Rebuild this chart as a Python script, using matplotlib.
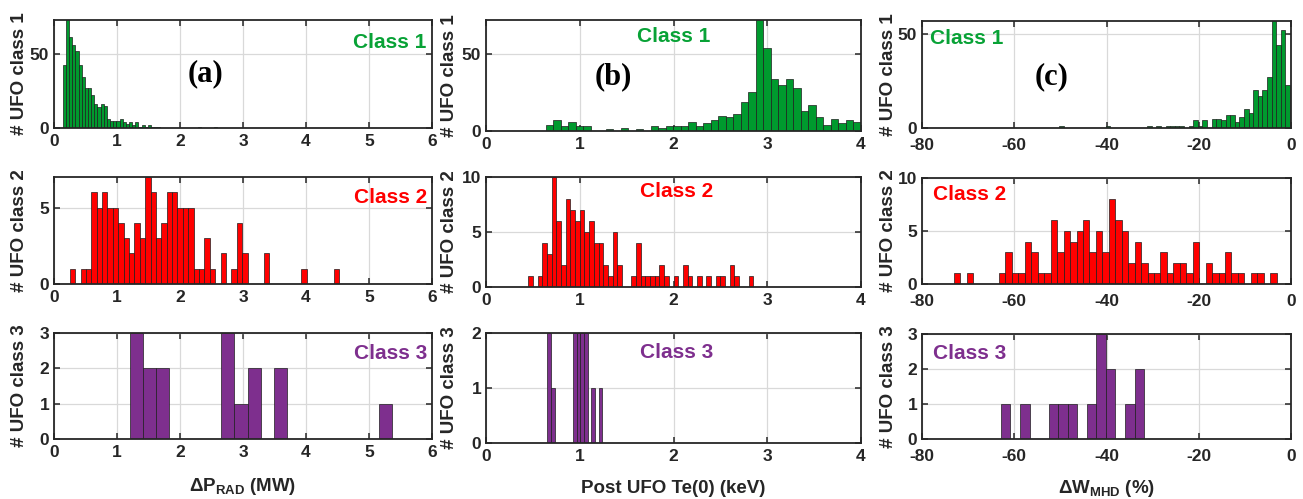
import numpy as np
import matplotlib
matplotlib.use("Agg")
import matplotlib.pyplot as plt

plt.rcParams['font.family'] = ['Liberation Sans', 'DejaVu Sans']
plt.rcParams['font.weight'] = 'bold'
plt.rcParams['axes.unicode_minus'] = False
plt.rcParams['mathtext.fontset'] = 'custom'
plt.rcParams['mathtext.rm'] = 'Liberation Sans:bold'
plt.rcParams['mathtext.bf'] = 'Liberation Sans:bold'
plt.rcParams['mathtext.default'] = 'bf'

# ---- histogram counts (bin start, bin width, counts) ----
# column (a): delta P_RAD (MW)
prad_c1_start, prad_c1_width = 0.14, 0.05
prad_c1 = [42, 80, 61, 56, 52, 42, 34, 27, 27, 22, 16, 14, 16, 15, 6, 5, 5, 5, 6, 4,
           3, 4, 2, 4, 1, 2, 1, 2, 1, 1, 1, 0, 0, 0, 0, 0, 0, 0, 0, 0,
           0, 0, 0, 1, 0, 0, 0, 0, 1]
prad_c2_start, prad_c2_width = 0.25, 0.0855
prad_c2 = [1, 0, 1, 1, 6, 5, 6, 5, 5, 4, 3, 2, 4, 3, 7, 6, 3, 4, 6, 6,
           5, 5, 5, 1, 1, 3, 1, 0, 2, 0, 1, 4, 2, 0, 0, 0, 2, 0, 0, 0,
           0, 0, 0, 1, 0, 0, 0, 0, 0, 1]
prad_c3_start, prad_c3_width = 1.2, 0.208
prad_c3 = [3, 2, 2, 0, 0, 0, 0, 3, 1, 2, 0, 2, 0, 0, 0, 0, 0, 0, 0, 1]

# column (b): post UFO Te(0) (keV)
te_c1_start, te_c1_width = 0.635, 0.08
te_c1 = [4, 7, 3, 6, 3, 3, 0, 0, 1, 0, 2, 0, 1, 0, 3, 2, 3, 3, 3, 6,
         3, 5, 7, 10, 9, 11, 19, 25, 80, 54, 34, 30, 34, 28, 13, 17, 9, 4, 8, 5,
         7, 6]
te_c2_start, te_c2_width = 0.45, 0.05
te_c2 = [1, 0, 1, 4, 3, 10, 6, 2, 8, 7, 6, 7, 5, 6, 4, 4, 2, 1, 5, 2,
         0, 0, 1, 4, 1, 1, 1, 1, 2, 1, 0, 1, 0, 2, 1, 0, 1, 0, 1, 0,
         1, 1, 0, 2, 1, 0, 0, 1]
te_c3_start, te_c3_width = 0.655, 0.039
te_c3 = [2, 1, 0, 0, 0, 0, 0, 2, 2, 2, 2, 0, 1, 0, 1]

# column (c): delta W_MHD (%)
wmhd_c1_start, wmhd_c1_width = -50.2, 1.0
wmhd_c1 = [1, 0, 0, 0, 0, 0, 0, 0, 0, 0, 1, 0, 0, 0, 0, 0, 0, 0, 0, 1,
           0, 1, 0, 1, 1, 1, 1, 0, 1, 4, 1, 4, 0, 5, 5, 4, 7, 7, 3, 6,
           10, 8, 20, 17, 20, 27, 60, 44, 52, 23]
wmhd_c2_start, wmhd_c2_width = -73.1, 1.4
wmhd_c2 = [1, 0, 1, 0, 0, 0, 0, 1, 3, 1, 1, 4, 3, 1, 1, 6, 3, 5, 4, 5,
           6, 3, 5, 3, 8, 6, 5, 2, 4, 2, 1, 1, 3, 1, 2, 2, 1, 4, 0, 2,
           1, 1, 3, 1, 1, 0, 1, 1, 0, 1]
wmhd_c3_start, wmhd_c3_width = -62.9, 2.07
wmhd_c3 = [1, 0, 1, 0, 0, 1, 1, 1, 0, 1, 3, 2, 0, 1, 2]

class_names = ['Class 1', 'Class 2', 'Class 3']
class_colors = ['#009a2e', '#ff0000', '#7e2f8e']
text_colors = ['#08a236', '#ff0000', '#7e2f8e']
ylabels = ['# UFO class 1', '# UFO class 2', '# UFO class 3']
panel_tags = ['(a)', '(b)', '(c)']
xlabels = [r'$\Delta$P$_{RAD}$ (MW)', 'Post UFO Te(0) (keV)', r'$\Delta$W$_{MHD}$ (%)']

columns = [
    dict(data=[(prad_c1_start, prad_c1_width, prad_c1),
               (prad_c2_start, prad_c2_width, prad_c2),
               (prad_c3_start, prad_c3_width, prad_c3)],
         xlim=(0, 6), xticks=[0, 1, 2, 3, 4, 5, 6],
         ylims=[72.5, 7, 3], yticks=[[0, 50], [0, 5], [0, 1, 2, 3]]),
    dict(data=[(te_c1_start, te_c1_width, te_c1),
               (te_c2_start, te_c2_width, te_c2),
               (te_c3_start, te_c3_width, te_c3)],
         xlim=(0, 4), xticks=[0, 1, 2, 3, 4],
         ylims=[72, 10, 2], yticks=[[0, 50], [0, 5, 10], [0, 1, 2]]),
    dict(data=[(wmhd_c1_start, wmhd_c1_width, wmhd_c1),
               (wmhd_c2_start, wmhd_c2_width, wmhd_c2),
               (wmhd_c3_start, wmhd_c3_width, wmhd_c3)],
         xlim=(-80, 0), xticks=[-80, -60, -40, -20, 0],
         ylims=[57, 10, 3], yticks=[[0, 50], [0, 5, 10], [0, 1, 2, 3]]),
]

# layout in pixels of the reference image
W, H = 1303, 499
col_x = [(54, 432), (486, 861), (922, 1291)]
row_y = [[(20, 128), (177, 284), (333, 439)],
         [(20, 131), (177, 287), (333, 443)],
         [(21, 128), (178, 284), (334, 439)]]
ylabel_x = [-0.069, -0.075, -0.068]
xlabel_y = [-0.35, -0.336, -0.368]
xtick_pad = [4.5, 4.5, 7.0]
# class label placement (x frac, y frac, ha)
class_pos = [[(0.985, 0.79, 'right'), (0.987, 0.81, 'right'), (0.987, 0.81, 'right')],
             [(0.50, 0.85, 'center'), (0.507, 0.87, 'center'), (0.507, 0.82, 'center')],
             [(0.022, 0.84, 'left'), (0.03, 0.84, 'left'), (0.03, 0.81, 'left')]]
tag_pos = [(0.40, 0.50), (0.34, 0.49), (0.352, 0.48)]

fig = plt.figure(figsize=(W / 100, H / 100), dpi=100)

for c, col in enumerate(columns):
    x0, x1 = col_x[c]
    for r in range(3):
        y0, y1 = row_y[c][r]
        ax = fig.add_axes([x0 / W, 1 - y1 / H, (x1 - x0) / W, (y1 - y0) / H])
        start, width, counts = col['data'][r]
        edges = start + width * np.arange(len(counts))
        ax.bar(edges, counts, width=width, align='edge', color=class_colors[r],
               edgecolor='#1e1e1e', linewidth=0.5, zorder=2)
        ax.set_xlim(*col['xlim'])
        ax.set_ylim(0, col['ylims'][r])
        ax.set_xticks(col['xticks'])
        ax.set_yticks(col['yticks'][r])
        ax.grid(True, color='#d9d9d9', linewidth=0.9, zorder=0)
        ax.set_axisbelow(True)
        for s in ax.spines.values():
            s.set_linewidth(1.3)
            s.set_color('#262626')
            s.set_zorder(3)
        ax.tick_params(direction='in', length=4, width=1.1, top=True, right=True,
                       labelsize=12.5, colors='#262626')
        ax.tick_params(axis='y', pad=3.5)
        ax.tick_params(axis='x', pad=xtick_pad[c])
        for lab in ax.get_xticklabels() + ax.get_yticklabels():
            lab.set_fontweight('bold')
        ax.set_ylabel(ylabels[r], fontsize=13.5, fontweight='bold', color='#262626')
        ax.yaxis.set_label_coords(ylabel_x[c], 0.5)
        tx, ty, ha = class_pos[c][r]
        ax.text(tx, ty, class_names[r], transform=ax.transAxes, ha=ha, va='center',
                fontsize=15, fontweight='bold', color=text_colors[r], zorder=4)
        if r == 0:
            ax.text(tag_pos[c][0], tag_pos[c][1], panel_tags[c], transform=ax.transAxes,
                    ha='center', va='center', fontsize=22, fontweight='bold',
                    family='Liberation Serif', zorder=4)
        if r == 2:
            ax.set_xlabel(xlabels[c], fontsize=13.5, fontweight='bold', color='#262626')
            ax.xaxis.set_label_coords(0.5, xlabel_y[c])

fig.savefig('out.png', dpi=100)
